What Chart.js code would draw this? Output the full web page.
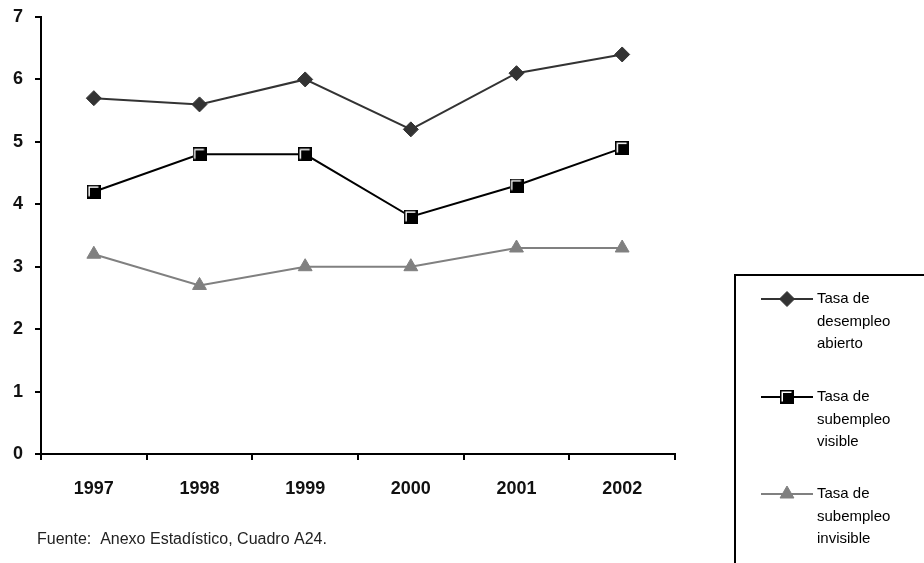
<!DOCTYPE html>
<html>
<head>
<meta charset="utf-8">
<script src="https://cdn.jsdelivr.net/npm/chart.js@4/dist/chart.umd.min.js"></script>
<style>
  html, body { margin: 0; padding: 0; background: #fff; }
  #wrap { position: relative; width: 924px; height: 563px; }
</style>
</head>
<body>
<div id="wrap"><canvas id="c" width="924" height="563"></canvas></div>
<script>
const years = ['1997', '1998', '1999', '2000', '2001', '2002'];
const desempleoAbierto = [5.7, 5.6, 6.0, 5.2, 6.1, 6.4];
const subempleoVisible = [4.2, 4.8, 4.8, 3.8, 4.3, 4.9];
const subempleoInvisible = [3.2, 2.7, 3.0, 3.0, 3.3, 3.3];
const yTicks = [0, 1, 2, 3, 4, 5, 6, 7];
const seriesNames = [
  ['Tasa de', 'desempleo', 'abierto'],
  ['Tasa de', 'subempleo', 'visible'],
  ['Tasa de', 'subempleo', 'invisible']
];
const sourceNote = 'Fuente:  Anexo Estadístico, Cuadro A24.';

const FONT = "'Liberation Sans', Arial, sans-serif";

// Square marker: black body with a light bevel on the upper-left edges
function squareMarker(size) {
  const cv = document.createElement('canvas');
  cv.width = size; cv.height = size;
  const g = cv.getContext('2d');
  g.fillStyle = '#000';
  g.fillRect(0, 0, size, size);
  g.strokeStyle = '#fff';
  g.lineWidth = 1.5;
  g.beginPath();
  g.moveTo(2.25, size - 2.5);
  g.lineTo(2.25, 2.25);
  g.lineTo(size - 2.5, 2.25);
  g.stroke();
  return cv;
}
const sqImg = squareMarker(14);

const styles = [
  { color: '#333333', point: 'rectRot', radius: 7.5, width: 2 },
  { color: '#000000', point: sqImg, radius: 7, width: 2 },
  { color: '#808080', point: 'triangle', radius: 8, width: 2 }
];

// Boxed legend with multi-line labels, placed to the right of the plot
const sideLegend = {
  id: 'sideLegend',
  afterDraw(chart) {
    const ctx = chart.ctx;
    ctx.save();
    ctx.strokeStyle = '#000';
    ctx.lineWidth = 2;
    ctx.strokeRect(735, 275, 260, 340);
    ctx.textBaseline = 'middle';
    ctx.textAlign = 'left';
    const tops = [299, 397, 494];
    seriesNames.forEach((lines, i) => {
      const y = tops[i];
      const st = styles[i];
      ctx.strokeStyle = st.color;
      ctx.fillStyle = st.color;
      ctx.lineWidth = st.width;
      ctx.beginPath();
      ctx.moveTo(761, y);
      ctx.lineTo(813, y);
      ctx.stroke();
      ctx.lineWidth = 1;
      Chart.helpers.drawPoint(ctx, {
        pointStyle: st.point, radius: st.radius, rotation: 0, borderWidth: 1
      }, 787, y);
      ctx.fillStyle = '#000';
      ctx.font = '15px ' + FONT;
      lines.forEach((t, k) => ctx.fillText(t, 817, y + k * 22.5));
    });
    ctx.fillStyle = '#222';
    ctx.font = '16px ' + FONT;
    ctx.fillText(sourceNote, 37, 540);
    ctx.restore();
  }
};

const datasets = [desempleoAbierto, subempleoVisible, subempleoInvisible].map((d, i) => ({
  label: seriesNames[i].join(' '),
  data: d,
  borderColor: styles[i].color,
  backgroundColor: styles[i].color,
  borderWidth: styles[i].width,
  pointStyle: styles[i].point,
  pointRadius: styles[i].radius,
  pointHoverRadius: styles[i].radius,
  pointBorderWidth: 1,
  pointBorderColor: styles[i].color,
  pointBackgroundColor: styles[i].color,
  tension: 0,
  clip: false
}));

new Chart(document.getElementById('c'), {
  type: 'line',
  data: { labels: years, datasets },
  options: {
    responsive: false,
    animation: false,
    devicePixelRatio: 1,
    layout: { padding: { left: 0, top: 17, right: 249, bottom: 59 } },
    plugins: { legend: { display: false }, tooltip: { enabled: false } },
    scales: {
      x: {
        offset: true,
        grid: { offset: true, drawOnChartArea: false, drawTicks: true, tickLength: 6, color: '#000', lineWidth: 2 },
        border: { display: true, color: '#000', width: 2 },
        ticks: { color: '#111', font: { family: FONT, size: 18, weight: 'bold' }, padding: 18, maxRotation: 0 },
        afterFit(s) { s.height = 50; s.paddingLeft = 0; s.paddingRight = 0; }
      },
      y: {
        min: 0, max: 7,
        afterBuildTicks(s) { s.ticks = yTicks.map(v => ({ value: v })); },
        grid: { drawOnChartArea: false, drawTicks: true, tickLength: 6, color: '#000', lineWidth: 2 },
        border: { display: true, color: '#000', width: 2 },
        ticks: { color: '#111', font: { family: FONT, size: 18, weight: 'bold' }, padding: 12 },
        afterFit(s) { s.width = 41; s.paddingTop = 0; s.paddingBottom = 0; }
      }
    }
  },
  plugins: [sideLegend]
});
</script>
</body>
</html>
